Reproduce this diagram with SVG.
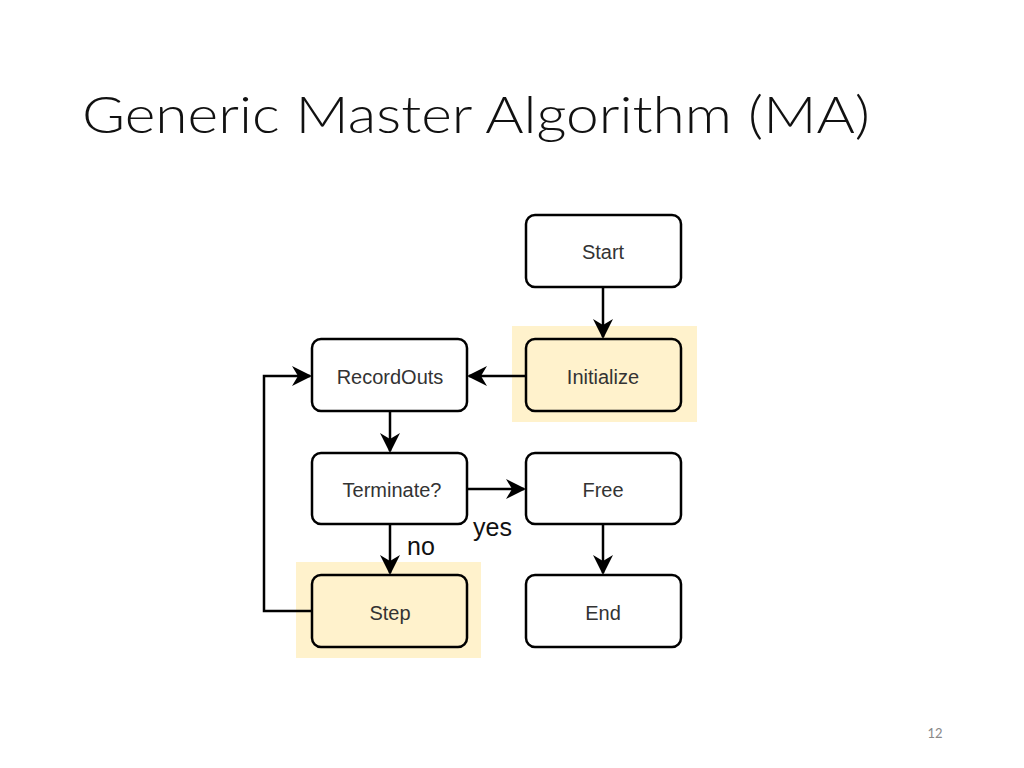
<svg xmlns="http://www.w3.org/2000/svg" width="1024" height="768" viewBox="0 0 1024 768">
<style>
.n{fill:#fff;stroke:#000;stroke-width:2.5}
.h{fill:#fff2cc;stroke:#000;stroke-width:2.5}
.hl{fill:#fff2cc}
.t{font-family:Arimo,"Liberation Sans",Arial,sans-serif;font-size:20px;text-anchor:middle;fill:#333}
.c{stroke:#000;stroke-width:2.5;fill:none;marker-end:url(#a)}
.l{font-family:Arimo,"Liberation Sans",Arial,sans-serif;font-size:25px;fill:#111}
</style>
<defs><marker id="a" viewBox="0 0 10 10" refX="9" refY="5" markerWidth="8" markerHeight="8" orient="auto" markerUnits="strokeWidth"><path d="M0,0 L10,5 L0,10 L3,5 z" fill="#000"/></marker></defs>
<rect width="1024" height="768" fill="#fff"/>
<text x="82" y="133" font-family="Lato,'Open Sans',sans-serif" font-weight="300" font-size="52" fill="#111" textLength="788" lengthAdjust="spacingAndGlyphs">Generic Master Algorithm (MA)</text>
<rect class="hl" x="512" y="326" width="185" height="96"/>
<rect class="hl" x="296" y="562" width="185" height="96"/>
<g id="start"><rect class="n" x="526" y="215" width="155" height="72" rx="9"/><text class="t" x="603" y="259">Start</text></g>
<g id="init"><rect class="h" x="526" y="339" width="155" height="72" rx="9"/><text class="t" x="603" y="384">Initialize</text></g>
<g id="record"><rect class="n" x="312" y="339" width="155" height="72" rx="9"/><text class="t" x="390" y="384">RecordOuts</text></g>
<g id="term"><rect class="n" x="312" y="453" width="155" height="71" rx="9"/><text class="t" x="392" y="497">Terminate?</text></g>
<g id="free"><rect class="n" x="526" y="453" width="155" height="71" rx="9"/><text class="t" x="603" y="497">Free</text></g>
<g id="step"><rect class="h" x="312" y="575" width="155" height="72" rx="9"/><text class="t" x="390" y="620">Step</text></g>
<g id="end"><rect class="n" x="526" y="575" width="155" height="72" rx="9"/><text class="t" x="603" y="620">End</text></g>
<g id="connectors">
<path class="c" d="M603,287 V337"/>
<path class="c" d="M526,376 H469"/>
<path class="c" d="M390,411 V451"/>
<path class="c" d="M467,489 H524"/>
<path class="c" d="M603,524 V573"/>
<path class="c" d="M390,524 V573"/>
<path class="c" d="M312,611 H264 V376 H310"/>
<text class="l" x="407" y="555">no</text>
<text class="l" x="473" y="536">yes</text>
</g>
<text x="935" y="738" font-family="Lato,sans-serif" font-size="13" fill="#888" text-anchor="middle">12</text>
</svg>
